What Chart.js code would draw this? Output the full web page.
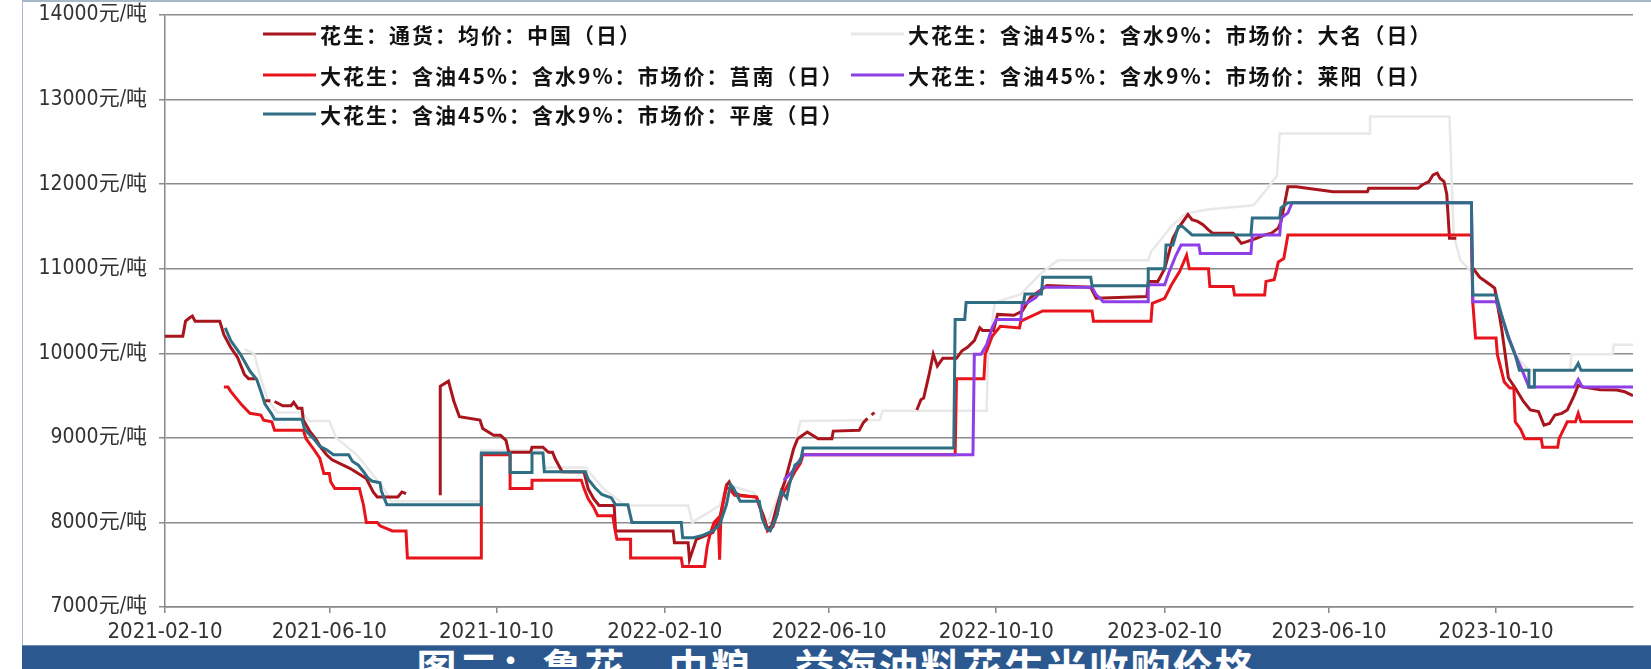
<!DOCTYPE html>
<html>
<head>
<meta charset="utf-8">
<script src="https://cdn.jsdelivr.net/npm/chart.js@4.4.1/dist/chart.umd.min.js"></script>
<style>
  body { margin: 0; background: #fff; width: 1651px; height: 669px; overflow: hidden; position: relative; }
  #wrap { position: absolute; left: 0; top: 0; width: 1651px; height: 645px; }
  #frame { position: absolute; left: 22px; top: 0; width: 1629px; height: 645px; border-top: 2px solid #a9b8c8; border-left: 1px solid #a9b8c8; box-sizing: border-box; pointer-events: none; }
  #caption { position: absolute; left: 22px; top: 645px; width: 1629px; height: 24px; background: #2c5890; overflow: hidden; border-top: 1px solid #6f8fb8; box-sizing: border-box; }
  #caption div { position: absolute; left: 0; right: 0; top: -4px; text-align: center; color: #fff; font: bold 40px "Noto Sans CJK SC"; letter-spacing: 2px; line-height: 48px; white-space: nowrap; }
</style>
</head>
<body>
<div id="wrap"><canvas id="chart"></canvas></div>
<div id="frame"></div>
<div id="caption"><div>图二：鲁花、中粮、益海油料花生米收购价格</div></div>
<script>
// axis
const startDate = '2021-02-10';
const endDate = '2024-01-18';
const xTickDates = ['2021-02-10', '2021-06-10', '2021-10-10', '2022-02-10', '2022-06-10',
                    '2022-10-10', '2023-02-10', '2023-06-10', '2023-10-10'];
const yMin = 7000, yMax = 14000, yStep = 1000;
const yUnit = '元/吨';

const seriesNames = [
  '花生：通货：均价：中国（日）',
  '大花生：含油45%：含水9%：市场价：大名（日）',
  '大花生：含油45%：含水9%：市场价：莒南（日）',
  '大花生：含油45%：含水9%：市场价：莱阳（日）',
  '大花生：含油45%：含水9%：市场价：平度（日）'
];

// 花生：通货：均价：中国
const chinaDates = ['2021-02-10','2021-02-23','2021-02-25','2021-02-28','2021-03-02','2021-03-04','2021-03-22','2021-03-25','2021-03-30','2021-04-04',
  '2021-04-09','2021-04-12','2021-04-17','2021-04-20','2021-04-23','2021-04-28','2021-04-29','2021-05-01','2021-05-07','2021-05-13',
  '2021-05-15','2021-05-18','2021-05-21','2021-05-22','2021-05-27','2021-05-31','2021-06-04','2021-06-08','2021-06-12','2021-06-25',
  '2021-07-07','2021-07-12','2021-07-15','2021-07-30','2021-08-02','2021-08-05','2021-08-20','2021-08-30','2021-08-30','2021-09-05',
  '2021-09-09','2021-09-13','2021-09-28','2021-09-30','2021-10-08','2021-10-13','2021-10-17','2021-10-19','2021-11-04','2021-11-05',
  '2021-11-13','2021-11-17','2021-11-20','2021-11-22','2021-11-27','2021-12-13','2021-12-16','2021-12-20','2021-12-24','2022-01-04',
  '2022-01-05','2022-02-16','2022-02-17','2022-02-27','2022-02-28','2022-03-05','2022-03-17','2022-03-22','2022-03-27','2022-03-29',
  '2022-04-01','2022-04-06','2022-04-18','2022-04-20','2022-04-23','2022-04-26','2022-04-29','2022-05-03','2022-05-06','2022-05-09',
  '2022-05-15','2022-05-18','2022-05-25','2022-06-02','2022-06-12','2022-06-13','2022-07-02','2022-07-05','2022-07-08','2022-07-10',
  '2022-07-11','2022-07-13','2022-07-20','2022-08-13','2022-08-16','2022-08-18','2022-08-22','2022-08-25','2022-08-28','2022-09-01',
  '2022-09-11','2022-09-15','2022-09-19','2022-09-24','2022-09-28','2022-09-30','2022-10-08','2022-10-11','2022-10-23','2022-10-29',
  '2022-11-04','2022-11-16','2022-12-18','2022-12-22','2023-01-28','2023-01-29','2023-02-05','2023-02-10','2023-02-16','2023-02-20',
  '2023-02-27','2023-03-02','2023-03-06','2023-03-10','2023-03-14','2023-03-17','2023-04-01','2023-04-04','2023-04-07','2023-04-11',
  '2023-04-18','2023-04-24','2023-04-29','2023-05-04','2023-05-06','2023-05-08','2023-05-11','2023-05-17','2023-06-13','2023-07-08',
  '2023-07-09','2023-08-14','2023-08-17','2023-08-22','2023-08-25','2023-08-28','2023-08-30','2023-09-02','2023-09-04','2023-09-06',
  '2023-09-11','2023-09-16','2023-09-23','2023-09-28','2023-10-04','2023-10-09','2023-10-14','2023-10-19','2023-10-24','2023-10-30',
  '2023-11-04','2023-11-10','2023-11-14','2023-11-18','2023-11-22','2023-11-27','2023-12-01','2023-12-04','2023-12-06','2023-12-09',
  '2023-12-13','2023-12-25','2024-01-06','2024-01-12','2024-01-18'];
const chinaPrices = [10200,10200,10380,10420,10440,10380,10380,10220,10070,9950,
  9750,9700,9700,null,9440,9440,null,9430,9380,9380,
  9420,9350,9350,9210,9070,8990,8880,8800,8740,8640,
  8520,8360,8300,8300,8360,8340,null,8320,9610,9670,
  9430,9250,9210,9110,9030,9030,8970,8830,8830,8890,
  8890,8830,8830,8750,8600,8595,8400,8280,8200,8200,
  7900,7900,7760,7760,7560,7800,7880,8040,8440,8480,
  8360,8320,8300,8200,8080,7920,7960,8200,8360,8500,
  8870,8990,9070,8990,8990,9080,9090,9180,9230,null,
  9270,9300,null,9330,9450,9470,9750,9990,9850,9940,
  9940,10030,10070,10150,10300,10270,10270,10460,10450,10500,
  10660,10800,10780,10650,10670,10850,10850,11000,11360,11480,
  11640,11580,11560,11520,11460,11420,11420,11360,11300,11320,
  11360,11400,11420,11480,11560,11720,11970,11970,11910,11910,
  11950,11950,11990,12030,12110,12130,12070,12030,11880,11360,
  11360,null,11010,10900,10830,10770,10300,9710,9590,9430,
  9330,9310,9150,9170,9270,9290,9330,9430,9500,9620,
  9600,9570,9565,9545,9500];

// 大名
const damingDates = ['2021-04-09','2021-04-16','2021-04-21','2021-04-26','2021-05-03','2021-05-21','2021-05-26','2021-06-10','2021-06-15','2021-06-30',
  '2021-07-10','2021-07-20','2021-07-25','2021-09-29','2021-09-29','2021-11-13','2021-11-14','2021-12-14','2021-12-27','2022-01-12',
  '2022-02-27','2022-03-02','2022-03-12','2022-03-22','2022-03-27','2022-04-16','2022-04-26','2022-05-06','2022-05-16','2022-05-20',
  '2022-07-17','2022-07-19','2022-10-03','2022-10-04','2022-10-09','2022-10-28','2022-11-12','2022-11-24','2023-01-29','2023-01-31',
  '2023-02-15','2023-02-25','2023-03-13','2023-04-16','2023-04-26','2023-05-03','2023-05-05','2023-07-10','2023-07-10','2023-09-06',
  '2023-09-09','2023-09-14','2023-09-23','2023-10-10','2023-10-18','2023-10-28','2023-11-03','2023-12-03','2023-12-04','2024-01-03',
  '2024-01-04','2024-01-18'];
const damingPrices = [10050,10000,9700,9450,9300,9300,9200,9200,9000,8800,
  8600,8400,8250,8250,8850,8850,8650,8650,8400,8200,
  8200,8000,8100,8200,8450,8350,8000,8400,8900,9200,
  9210,9320,9320,10000,10600,10700,10950,11100,11100,11200,
  11500,11650,11700,11750,11950,12100,12600,12600,12800,12800,
  11400,11100,10950,10750,10200,9900,9800,9800,9990,9990,
  10100,10100];

// 莒南
const junanDates = ['2021-03-25','2021-03-28','2021-03-30','2021-04-03','2021-04-07','2021-04-13','2021-04-21','2021-04-23','2021-04-29','2021-05-01',
  '2021-05-22','2021-05-24','2021-05-29','2021-06-03','2021-06-06','2021-06-10','2021-06-11','2021-06-14','2021-07-02','2021-07-05',
  '2021-07-07','2021-07-15','2021-07-17','2021-07-26','2021-08-05','2021-08-06','2021-09-29','2021-09-29','2021-10-20','2021-10-20',
  '2021-11-05','2021-11-05','2021-12-11','2021-12-13','2021-12-16','2021-12-20','2021-12-23','2022-01-03','2022-01-05','2022-01-06',
  '2022-01-16','2022-01-16','2022-02-22','2022-02-23','2022-03-11','2022-03-13','2022-03-15','2022-03-18','2022-03-21','2022-03-22',
  '2022-03-23','2022-03-27','2022-03-30','2022-04-02','2022-04-18','2022-04-22','2022-04-26','2022-04-30','2022-05-03','2022-05-06',
  '2022-05-11','2022-05-16','2022-05-20','2022-05-22','2022-09-10','2022-09-11','2022-10-01','2022-10-02','2022-10-07','2022-10-13',
  '2022-10-27','2022-10-28','2022-11-13','2022-12-19','2022-12-20','2023-01-31','2023-02-01','2023-02-10','2023-02-15','2023-02-21',
  '2023-02-26','2023-02-28','2023-03-14','2023-03-15','2023-04-01','2023-04-02','2023-04-24','2023-04-25','2023-05-01','2023-05-04',
  '2023-05-08','2023-05-11','2023-09-22','2023-09-23','2023-09-25','2023-10-10','2023-10-11','2023-10-16','2023-10-20','2023-10-23',
  '2023-10-24','2023-10-28','2023-10-31','2023-11-12','2023-11-13','2023-11-24','2023-11-25','2023-12-01','2023-12-07','2023-12-09',
  '2023-12-11','2024-01-18'];
const junanPrices = [9600,9600,9550,9470,9390,9290,9270,9210,9190,9090,
  9090,8990,8880,8760,8580,8580,8480,8400,8400,8200,
  8000,8000,7960,7900,7900,7580,7580,8800,8800,8400,
  8400,8500,8500,8400,8280,8180,8080,8080,7880,7800,
  7800,7580,7580,7480,7480,7720,7860,8000,8050,7560,
  8100,8420,8380,8320,8300,8100,7900,7950,8100,8300,
  8450,8600,8700,8800,8800,9700,9700,9990,10200,10320,
  10300,10380,10500,10500,10380,10380,10590,10650,10810,10970,
  11160,11000,11000,10790,10790,10690,10690,10850,10870,11080,
  11120,11400,11400,10600,10180,10180,9980,9660,9590,9590,
  9190,9100,8990,8990,8890,8890,8990,9190,9190,9290,
  9190,9190];

// 莱阳
const laiyangDates = ['2022-05-08','2022-05-14','2022-05-18','2022-05-22','2022-09-23','2022-09-24','2022-09-29','2022-10-03','2022-10-07','2022-10-10',
  '2022-10-28','2022-10-29','2022-11-02','2022-11-08','2022-11-13','2022-12-19','2022-12-22','2022-12-25','2022-12-27','2023-01-29',
  '2023-01-29','2023-02-10','2023-02-13','2023-02-18','2023-02-22','2023-03-07','2023-03-08','2023-04-14','2023-04-15','2023-05-05',
  '2023-05-06','2023-05-11','2023-05-14','2023-09-22','2023-09-23','2023-10-10','2023-10-14','2023-10-19','2023-10-24','2023-10-29',
  '2023-11-03','2023-12-06','2023-12-09','2023-12-12','2024-01-18'];
const laiyangPrices = [8500,8600,8700,8800,8800,9990,9990,10100,10300,10400,
  10400,10580,10600,10660,10780,10780,10690,10650,10610,10610,
  10810,10810,10950,11150,11280,11280,11180,11180,11400,11400,
  11600,11660,11780,11780,10610,10610,10450,10200,9980,9800,
  9600,9600,9690,9600,9600];

// 平度
const pingduDates = ['2021-03-26','2021-03-30','2021-04-06','2021-04-13','2021-04-18','2021-04-21','2021-04-24','2021-04-29','2021-05-01','2021-05-21',
  '2021-05-23','2021-05-29','2021-06-03','2021-06-08','2021-06-13','2021-06-24','2021-06-27','2021-07-01','2021-07-05','2021-07-08',
  '2021-07-11','2021-07-17','2021-07-18','2021-07-22','2021-09-29','2021-09-29','2021-10-20','2021-10-20','2021-11-05','2021-11-05',
  '2021-11-13','2021-11-14','2021-12-14','2021-12-16','2021-12-21','2021-12-26','2022-01-02','2022-01-05','2022-01-14','2022-01-17',
  '2022-02-22','2022-02-23','2022-03-03','2022-03-10','2022-03-17','2022-03-22','2022-03-27','2022-03-30','2022-04-01','2022-04-06',
  '2022-04-20','2022-04-22','2022-04-25','2022-04-28','2022-05-03','2022-05-06','2022-05-10','2022-05-12','2022-05-16','2022-05-20',
  '2022-05-22','2022-09-09','2022-09-10','2022-09-17','2022-09-18','2022-10-30','2022-10-31','2022-11-12','2022-11-13','2022-12-18',
  '2022-12-19','2023-01-29','2023-01-29','2023-02-10','2023-02-11','2023-02-16','2023-02-20','2023-02-23','2023-03-02','2023-04-14',
  '2023-04-15','2023-05-05','2023-05-06','2023-05-11','2023-09-22','2023-09-23','2023-10-10','2023-10-14','2023-10-19','2023-10-24',
  '2023-10-27','2023-11-03','2023-11-03','2023-11-07','2023-11-07','2023-12-06','2023-12-09','2023-12-11','2024-01-18'];
const pingduPrices = [10300,10150,9990,9790,9690,9550,9400,9280,9220,9220,
  9100,9000,8900,8860,8800,8800,8720,8680,8600,8530,
  8490,8470,8370,8210,8210,8820,8820,8590,8590,8820,
  8820,8600,8600,8510,8410,8330,8290,8210,8210,8000,
  8000,7820,7820,7850,7900,7970,8210,8450,8410,8250,
  8250,8050,7930,7900,8090,8370,8290,8450,8680,8720,
  8880,8880,10400,10400,10600,10600,10700,10700,10900,10900,
  10800,10800,11000,11000,11280,11280,11500,11500,11400,11400,
  11600,11600,11720,11780,11780,10690,10690,10450,10180,9980,
  9800,9800,9600,9600,9800,9800,9880,9800,9800];

function dayOf(s) {
  const [y, m, d] = s.split('-').map(Number);
  const [y0, m0, d0] = startDate.split('-').map(Number);
  return (Date.UTC(y, m - 1, d) - Date.UTC(y0, m0 - 1, d0)) / 86400000;
}
function dateOf(day) {
  const [y0, m0, d0] = startDate.split('-').map(Number);
  return new Date(Date.UTC(y0, m0 - 1, d0) + Math.round(day) * 86400000).toISOString().slice(0, 10);
}
function points(dates, prices) {
  return dates.map((d, i) => ({ x: dayOf(d), y: prices[i] }));
}

// legend drawn as two columns like the original
const legendCols = [263, 851];
const legendRows = [34, 75, 114];
const legendPlugin = {
  id: 'gridLegend',
  afterDraw(chart) {
    const ctx = chart.ctx;
    ctx.save();
    chart.data.datasets.forEach((ds, i) => {
      const x = legendCols[i % 2];
      const y = legendRows[Math.floor(i / 2)];
      ctx.strokeStyle = ds.borderColor;
      ctx.lineWidth = 3;
      ctx.beginPath();
      ctx.moveTo(x, y);
      ctx.lineTo(x + 53, y);
      ctx.stroke();
      ctx.fillStyle = '#111';
      ctx.font = 'bold 21px "Noto Sans CJK SC"';
      ctx.textBaseline = 'middle';
      ctx.textAlign = 'left';
      ctx.letterSpacing = '2px';
      ctx.fillText(ds.label, x + 57, y + 1);
    });
    ctx.restore();
  }
};

const line = { pointRadius: 0, fill: false, tension: 0, spanGaps: false, borderWidth: 3 };

new Chart(document.getElementById('chart'), {
  type: 'line',
  data: {
    datasets: [
      { ...line, label: seriesNames[0], data: points(chinaDates, chinaPrices), borderColor: '#a8151d', order: 4 },
      { ...line, label: seriesNames[1], data: points(damingDates, damingPrices), borderColor: '#e8e8e8', borderWidth: 2.5, order: 5 },
      { ...line, label: seriesNames[2], data: points(junanDates, junanPrices), borderColor: '#e8141c', order: 3 },
      { ...line, label: seriesNames[3], data: points(laiyangDates, laiyangPrices), borderColor: '#8e3fe6', order: 2 },
      { ...line, label: seriesNames[4], data: points(pingduDates, pingduPrices), borderColor: '#2f6e83', order: 1 }
    ]
  },
  options: {
    responsive: true,
    maintainAspectRatio: false,
    devicePixelRatio: 1,
    animation: false,
    events: [],
    layout: { padding: { top: 15, right: 18, bottom: 0, left: 0 } },
    plugins: { legend: { display: false }, tooltip: { enabled: false } },
    scales: {
      x: {
        type: 'linear',
        min: dayOf(startDate),
        max: dayOf(endDate),
        afterBuildTicks: (scale) => { scale.ticks = xTickDates.map(d => ({ value: dayOf(d) })); },
        afterFit: (scale) => { scale.height = 38; scale.paddingLeft = 0; scale.paddingRight = 0; },
        ticks: {
          autoSkip: false, maxRotation: 0, padding: 6, color: '#333',
          font: { family: '"DejaVu Sans Condensed", "DejaVu Sans"', size: 22 },
          callback: (v) => dateOf(v)
        },
        grid: { drawOnChartArea: false, drawTicks: true, tickLength: 6, color: '#888', lineWidth: 1.5 },
        border: { color: '#888', width: 1.5 }
      },
      y: {
        min: yMin,
        max: yMax,
        afterFit: (scale) => { scale.width = 165; scale.paddingTop = 0; scale.paddingBottom = 0; },
        ticks: {
          stepSize: yStep, padding: 12, color: '#333',
          font: { family: '"DejaVu Sans Condensed", "Noto Sans CJK SC"', size: 21 },
          callback: (v) => v + yUnit
        },
        grid: { color: '#8c8c8c', lineWidth: 1.5, tickLength: 6 },
        border: { color: '#888', width: 1.5 }
      }
    }
  },
  plugins: [legendPlugin]
});
</script>
</body>
</html>
